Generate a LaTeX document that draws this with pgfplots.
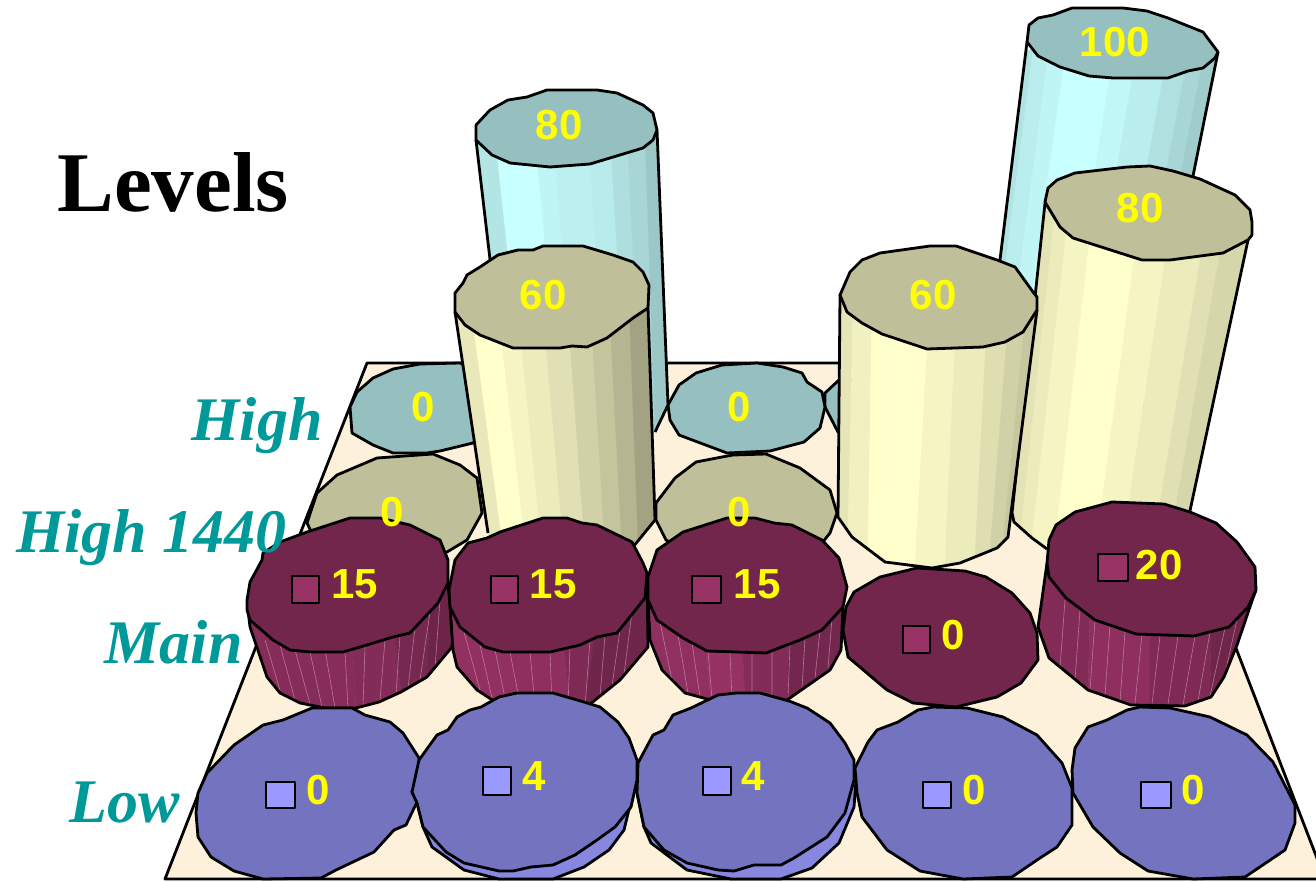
\documentclass[border=0pt]{standalone}
\usepackage{fontspec}
\setmainfont{Liberation Sans}
\newfontfamily\titlefont{Liberation Serif}
\usepackage{pgfplots}
\pgfplotsset{compat=1.18}
\definecolor{floorc}{HTML}{FDF1DC}
\definecolor{cyanb}{HTML}{C8FFFF}
\definecolor{yelb}{HTML}{FFFFCC}
\definecolor{marb}{HTML}{993366}
\definecolor{bluc}{HTML}{9999FF}
\definecolor{axlab}{HTML}{009999}
\definecolor{numc}{HTML}{FFFF00}
% closed outlined polygon, borderless band, open outline
\newcommand{\poly}[2]{\addplot[fill=#1,draw=black,line width=1.4pt,line join=round] coordinates {#2} --cycle;}
\newcommand{\band}[2]{\addplot[fill=#1,draw=#1,line width=.2pt] coordinates {#2} --cycle;}
\newcommand{\edge}[1]{\addplot[draw=black,line width=1.4pt,line join=round] coordinates {#1};}
\newcommand{\seam}[1]{\addplot[draw=marb!50!white,line width=.3pt,opacity=.7,unbounded coords=jump] coordinates {#1};}
\newcommand{\lab}[3]{\addplot[only marks,mark=none,nodes near coords={#3},
  nodes near coords align={anchor=base},
  every node near coord/.append style={font=\fontsize{21}{21}\selectfont\bfseries,text=numc,inner sep=0pt,anchor=base}]
  coordinates {(#1,#2)};}
\begin{document}
\begin{tikzpicture}
\begin{axis}[scale only axis,width=658pt,height=441pt,
  xmin=0,xmax=1316,ymin=0,ymax=882,y dir=reverse,hide axis]
% floor
\poly{floorc}{(367,363)(1126,363)(1325,879)(165,879)}
% row High: zero discs
\poly{cyanb!75!black}{(350,407)(357,392)(373,378)(393,369)(420,364)(460,363)(490,380)(490,430)(473,443)(440,451)(427,453)(393,453)(373,445)(352,433)}
\lab{423}{421}{0}
\poly{cyanb!75!black}{(825,393)(839,380)(860,380)(860,432)(838,432)(825,407)}
\poly{cyanb!75!black}{(668,405)(679,385)(696,373)(722,365)(757,363)(783,367)(802,373)(807,382)(822,392)(825,407)(820,428)(804,442)(770,451)(727,453)(679,435)(670,420)}
\lab{739}{421}{0}
% row High: 80
\band{cyanb!90!black}{(476,140)(495,135)(527,430)(510,430)}
\band{cyanb}{(495,135)(535,135)(562,430)(527,430)}
\band{cyanb!96!black}{(535,135)(553,135)(578,430)(562,430)}
\band{cyanb!94!black}{(553,135)(588,135)(609,430)(578,430)}
\band{cyanb!92!black}{(588,135)(610,135)(628,430)(609,430)}
\band{cyanb!87!black}{(610,135)(627,135)(642,430)(628,430)}
\band{cyanb!84!black}{(627,135)(645,135)(655,432)(642,430)}
\band{cyanb!78!black}{(645,135)(657,130)(668,405)(655,432)}
\edge{(476,140)(510,430)}
\edge{(657,130)(668,405)(655,432)}
\poly{cyanb!75!black}{(476,125)(490,110)(508,100)(527,97)(547,90)(597,90)(617,93)(643,105)(653,113)(657,130)(653,140)(643,148)(590,164)(550,167)(510,163)(492,155)(476,140)}
\lab{559}{140}{80}
% row High: 100
\band{cyanb!89!black}{(1026,50)(1033,50)(1001,300)(995,300)}
\band{cyanb!93!black}{(1033,50)(1049,50)(1016,300)(1001,300)}
\band{cyanb!96!black}{(1049,50)(1066,50)(1031,300)(1016,300)}
\band{cyanb}{(1066,50)(1114,50)(1075,300)(1031,300)}
\band{cyanb!97!black}{(1114,50)(1137,50)(1095,300)(1075,300)}
\band{cyanb!93!black}{(1137,50)(1168,50)(1123,300)(1095,300)}
\band{cyanb!88!black}{(1168,50)(1189,50)(1142,300)(1123,300)}
\band{cyanb!84!black}{(1189,50)(1205,50)(1156,300)(1142,300)}
\band{cyanb!80!black}{(1205,50)(1218,52)(1168,300)(1156,300)}
\edge{(1027,42)(995,300)}
\edge{(1218,52)(1168,300)}
\poly{cyanb!75!black}{(1027,42)(1029,25)(1038,18)(1053,15)(1072,8)(1123,8)(1147,11)(1168,18)(1203,32)(1218,52)(1215,58)(1203,68)(1188,71)(1168,78)(1113,78)(1089,76)(1060,67)(1038,56)}
\lab{1115}{57}{100}
% row High 1440: zero discs
\poly{yelb!75!black}{(307,523)(317,493)(337,475)(377,458)(433,454)(460,465)(477,478)(482,513)(467,540)(447,552)(420,560)(320,550)}
\lab{392}{526}{0}
\poly{yelb!75!black}{(656,503)(675,478)(696,462)(722,457)(733,455)(766,454)(800,468)(830,490)(837,513)(830,533)(822,543)(790,560)(700,560)(666,540)(656,520)}
\lab{739}{526}{0}
% row High 1440: first 60
\band{yelb!91!black}{(455,300)(470,300)(502,540)(489,540)}
\band{yelb}{(470,300)(497,300)(526,550)(502,540)}
\band{yelb!96!black}{(497,300)(517,300)(542,550)(526,550)}
\band{yelb!92!black}{(517,300)(542,300)(564,550)(542,550)}
\band{yelb!88!black}{(542,300)(567,300)(585,550)(564,550)}
\band{yelb!82!black}{(567,300)(590,300)(605,550)(585,550)}
\band{yelb!77!black}{(590,300)(609,300)(622,550)(605,550)}
\band{yelb!71!black}{(609,300)(629,300)(638,541)(633,547)(622,550)}
\band{yelb!64!black}{(629,300)(648,300)(655,520)(638,541)}
\edge{(455,312)(488,533)}
\edge{(648,308)(655,520)(633,547)}
\poly{yelb!75!black}{(455,293)(463,283)(467,275)(480,267)(498,255)(518,250)(533,250)(543,246)(583,246)(613,255)(633,262)(643,272)(649,285)(648,308)(633,318)(607,338)(587,347)(572,346)(560,348)(513,348)(480,335)(465,325)(455,312)}
\lab{543}{309}{60}
% row High 1440: 80, behind the second 60
\band{yelb!89!black}{(1045,200)(1056,200)(1021,530)(1014,522)(1012,513)}
\band{yelb!92!black}{(1056,200)(1070,200)(1032,538)(1021,530)}
\band{yelb!96!black}{(1070,200)(1094,200)(1052,570)(1047,549)(1032,538)}
\band{yelb}{(1094,200)(1142,200)(1093,570)(1052,570)}
\band{yelb!96!black}{(1142,200)(1174,200)(1119,570)(1093,570)}
\band{yelb!92!black}{(1174,200)(1210,200)(1149,570)(1119,570)}
\band{yelb!88!black}{(1210,200)(1229,200)(1165,570)(1149,570)}
\band{yelb!84!black}{(1229,200)(1248,225)(1248,240)(1188,520)(1186,570)(1165,570)}
\edge{(1045,203)(1012,513)(1014,522)(1032,538)(1047,549)}
\edge{(1248,240)(1188,520)}
\poly{yelb!75!black}{(1045,202)(1048,188)(1057,180)(1075,173)(1127,167)(1150,166)(1173,171)(1200,179)(1235,195)(1250,210)(1252,222)(1252,235)(1248,240)(1223,253)(1170,260)(1142,260)(1073,238)(1060,227)}
\lab{1140}{223}{80}
% row High 1440: second 60
\band{yelb!90!black}{(840,300)(853,300)(848,530)(838,517)}
\band{yelb!94!black}{(853,300)(872,300)(868,552)(852,537)(848,530)}
\band{yelb}{(872,300)(930,300)(915,567)(885,562)(868,552)}
\band{yelb!96!black}{(930,300)(957,300)(945,566)(932,568)(915,567)}
\band{yelb!92!black}{(957,300)(988,300)(975,557)(960,563)(945,566)}
\band{yelb!87!black}{(988,300)(1010,300)(990,551)(975,557)}
\band{yelb!82!black}{(1010,300)(1027,300)(1003,542)(997,548)(990,551)}
\band{yelb!78!black}{(1027,300)(1037,305)(1011,513)(1008,537)(1003,542)}
\edge{(840,295)(838,517)(852,537)(885,562)(932,568)(960,563)(997,548)(1008,537)(1011,513)(1037,310)}
\poly{yelb!75!black}{(840,295)(850,272)(862,260)(880,253)(930,246)(956,246)(997,260)(1015,267)(1033,292)(1037,297)(1037,310)(1023,332)(1005,342)(983,347)(927,349)(882,334)(862,323)(847,312)}
\lab{933}{309}{60}
% row Main: 15
\band{marb!87!black}{(248,600)(290,600)(325,708)(300,703)(280,693)(267,677)(250,625)}
\band{marb!89!black}{(290,600)(350,600)(356,708)(325,708)}
\band{marb!86!black}{(350,600)(390,600)(401,692)(379,702)(356,708)}
\band{marb!78!black}{(390,600)(430,600)(427,677)(401,692)}
\band{marb!71!black}{(430,600)(449,580)(453,637)(452,647)(427,677)}
\seam{(265,640)(280,690)(0,nan)(280,645)(295,700)(0,nan)(295,650)(310,704)(0,nan)(310,652)(322,707)(0,nan)(325,650)(335,708)(0,nan)(345,652)(348,708)(0,nan)(365,647)(363,706)(0,nan)(385,640)(380,700)(0,nan)(400,635)(396,694)(0,nan)(415,628)(408,688)(0,nan)(430,612)(420,680)(0,nan)(440,600)(435,668)}
\edge{(248,610)(250,627)(267,677)(280,693)(300,703)(325,708)(356,708)(379,702)(401,692)(427,677)(452,647)(453,637)(448,583)}
\poly{marb!75!black}{(247,600)(250,582)(262,560)(263,553)(280,542)(307,532)(350,518)(380,518)(410,525)(440,540)(448,560)(448,583)(438,603)(410,633)(393,637)(367,645)(343,652)(310,652)(290,650)(273,640)(250,620)(247,610)}
\poly{marb}{(292,576)(319,576)(319,603)(292,603)}
\lab{355}{598}{15}
% row Main: 15
\band{marb!95!black}{(452,600)(500,600)(520,704)(500,705)(477,690)(457,667)(453,650)}
\band{marb!93!black}{(500,600)(560,600)(570,708)(520,704)}
\band{marb!83!black}{(560,600)(600,600)(584,709)(570,708)}
\band{marb!73!black}{(600,600)(647,573)(648,647)(620,680)(584,709)}
\seam{(464,632)(480,690)(0,nan)(480,645)(492,698)(0,nan)(495,650)(506,703)(0,nan)(510,652)(520,704)(0,nan)(530,652)(535,705)(0,nan)(550,652)(552,705)(0,nan)(570,647)(568,707)(0,nan)(590,640)(585,707)(0,nan)(605,636)(600,696)(0,nan)(620,630)(612,686)(0,nan)(632,612)(624,674)}
\edge{(450,607)(453,650)(457,667)(477,690)(500,705)(584,709)(620,680)(648,647)(647,573)}
\poly{marb!75!black}{(449,590)(455,560)(468,543)(487,538)(500,532)(543,518)(567,518)(582,523)(597,525)(632,542)(643,563)(647,573)(645,598)(633,613)(617,633)(597,637)(580,645)(550,652)(503,652)(485,647)(460,627)(450,607)}
\poly{marb}{(491,576)(518,576)(518,603)(491,603)}
\lab{553}{598}{15}
% row Main: 15
\band{marb!94!black}{(650,600)(700,600)(711,700)(685,693)(662,670)(650,640)}
\band{marb!98!black}{(700,600)(740,600)(745,700)(711,700)}
\band{marb!86!black}{(740,600)(790,600)(787,700)(745,700)}
\band{marb!76!black}{(790,600)(843,607)(841,650)(830,670)(787,700)}
\seam{(660,622)(672,680)(0,nan)(678,635)(688,693)(0,nan)(692,643)(700,697)(0,nan)(708,651)(712,699)(0,nan)(730,653)(732,699)(0,nan)(752,653)(752,699)(0,nan)(772,651)(772,699)(0,nan)(790,645)(788,698)(0,nan)(805,638)(802,688)(0,nan)(820,630)(815,678)(0,nan)(832,618)(828,668)}
\edge{(648,600)(650,640)(662,670)(685,693)(711,700)(787,700)(830,670)(841,650)(843,607)}
\poly{marb!75!black}{(648,577)(657,550)(683,532)(727,518)(755,518)(774,523)(792,525)(822,540)(839,558)(847,587)(843,607)(822,630)(800,640)(766,653)(707,651)(683,638)(657,620)(648,600)}
\poly{marb}{(692,576)(721,576)(721,603)(692,603)}
\lab{757}{598}{15}
% row Main: 0
\poly{marb!75!black}{(843,630)(846,607)(854,592)(880,577)(917,568)(965,571)(986,577)(1012,593)(1030,613)(1037,633)(1038,660)(1021,683)(997,697)(956,707)(913,703)(887,690)(848,657)}
\poly{marb}{(903,626)(930,626)(930,653)(903,653)}
\lab{953}{649}{0}
% row Main: 20
\band{marb!85!black}{(1047,563)(1090,610)(1088,690)(1049,658)(1038,627)}
\band{marb!93!black}{(1090,610)(1150,620)(1150,705)(1131,705)(1088,690)}
\band{marb!83!black}{(1150,620)(1210,620)(1211,697)(1185,706)(1150,705)}
\band{marb!73!black}{(1210,620)(1256,590)(1253,598)(1237,645)(1224,677)(1211,697)}
\seam{(1065,600)(1060,668)(0,nan)(1080,610)(1075,680)(0,nan)(1095,620)(1090,690)(0,nan)(1110,625)(1105,695)(0,nan)(1125,632)(1120,702)(0,nan)(1142,634)(1135,704)(0,nan)(1160,636)(1152,704)(0,nan)(1178,636)(1168,704)(0,nan)(1195,636)(1183,705)(0,nan)(1210,632)(1198,701)(0,nan)(1225,628)(1210,696)(0,nan)(1238,615)(1225,674)}
\edge{(1047,563)(1038,627)(1049,658)(1088,690)(1131,705)(1185,706)(1211,697)(1224,677)(1237,645)(1253,598)(1256,590)}
\poly{marb!75!black}{(1047,563)(1049,540)(1056,525)(1075,512)(1112,502)(1164,504)(1190,512)(1216,523)(1237,542)(1255,567)(1256,590)(1248,607)(1229,627)(1194,636)(1136,634)(1095,620)(1066,598)(1049,577)}
\poly{marb}{(1098,554)(1128,554)(1128,581)(1098,581)}
\lab{1159}{579}{20}
% row Low
\poly{bluc!75!black}{(196,813)(198,793)(207,773)(234,745)(263,725)(283,720)(312,708)(352,708)(365,715)(390,722)(403,733)(419,758)(420,773)(412,792)(417,802)(406,825)(394,830)(374,852)(336,870)(321,878)(263,879)(234,871)(211,857)(198,837)}
\poly{bluc!88!black}{(417,803)(423,827)(432,847)(464,870)(499,879)(553,879)(584,867)(609,850)(624,830)(633,793)(637,780)}
\poly{bluc!75!black}{(412,792)(419,760)(437,735)(448,730)(457,717)(470,710)(481,707)(499,697)(517,693)(553,693)(584,702)(600,707)(618,722)(629,738)(637,760)(637,780)(631,807)(615,827)(597,840)(575,855)(553,865)(531,867)(513,871)(499,871)(464,863)(446,852)(423,827)(417,803)}
\poly{bluc}{(483,767)(511,767)(511,795)(483,795)}
\lab{534}{790}{4}
\poly{bluc!88!black}{(637,793)(644,827)(651,843)(687,870)(731,879)(781,879)(812,868)(839,843)(854,807)(856,780)}
\poly{bluc!75!black}{(638,763)(653,735)(664,730)(673,715)(691,708)(718,695)(736,693)(760,693)(789,701)(807,708)(830,723)(845,743)(854,760)(854,780)(845,813)(827,837)(794,858)(781,865)(754,865)(734,871)(718,870)(687,863)(664,850)(644,827)(637,793)}
\poly{bluc}{(703,767)(731,767)(731,795)(703,795)}
\lab{753}{790}{4}
\poly{bluc!75!black}{(855,768)(868,742)(877,730)(898,722)(918,710)(933,707)(967,708)(1003,717)(1037,735)(1062,763)(1072,788)(1072,825)(1057,847)(1040,858)(1012,877)(963,879)(920,871)(887,850)(862,817)(857,793)}
\poly{bluc!75!black}{(1072,770)(1075,748)(1088,727)(1107,720)(1127,710)(1140,707)(1170,708)(1210,717)(1247,735)(1273,762)(1295,805)(1295,823)(1285,850)(1245,877)(1193,879)(1148,871)(1120,853)(1093,827)(1073,793)}
\poly{bluc}{(266,782)(295,782)(295,808)(266,808)}
\lab{318}{804}{0}
\poly{bluc}{(923,782)(951,782)(951,808)(923,808)}
\lab{974}{804}{0}
\poly{bluc}{(1141,782)(1171,782)(1171,808)(1141,808)}
\lab{1193}{804}{0}
% labels
\node[anchor=base west,inner sep=0pt,font=\titlefont\bfseries\fontsize{42.5}{43}\selectfont] at (axis cs:57,212) {Levels};
\node[anchor=base east,inner sep=0pt,text=axlab,font=\titlefont\bfseries\itshape\fontsize{31}{31}\selectfont] at (axis cs:323,440) {High};
\node[anchor=base east,inner sep=0pt,text=axlab,font=\titlefont\bfseries\itshape\fontsize{31}{31}\selectfont] at (axis cs:287,552) {High 1440};
\node[anchor=base east,inner sep=0pt,text=axlab,font=\titlefont\bfseries\itshape\fontsize{31}{31}\selectfont] at (axis cs:243,663) {Main};
\node[anchor=base east,inner sep=0pt,text=axlab,font=\titlefont\bfseries\itshape\fontsize{31}{31}\selectfont] at (axis cs:180,822) {Low};
\end{axis}
\pgfresetboundingbox
\useasboundingbox (0,0) rectangle (658pt,441pt);
\end{tikzpicture}
\end{document}
